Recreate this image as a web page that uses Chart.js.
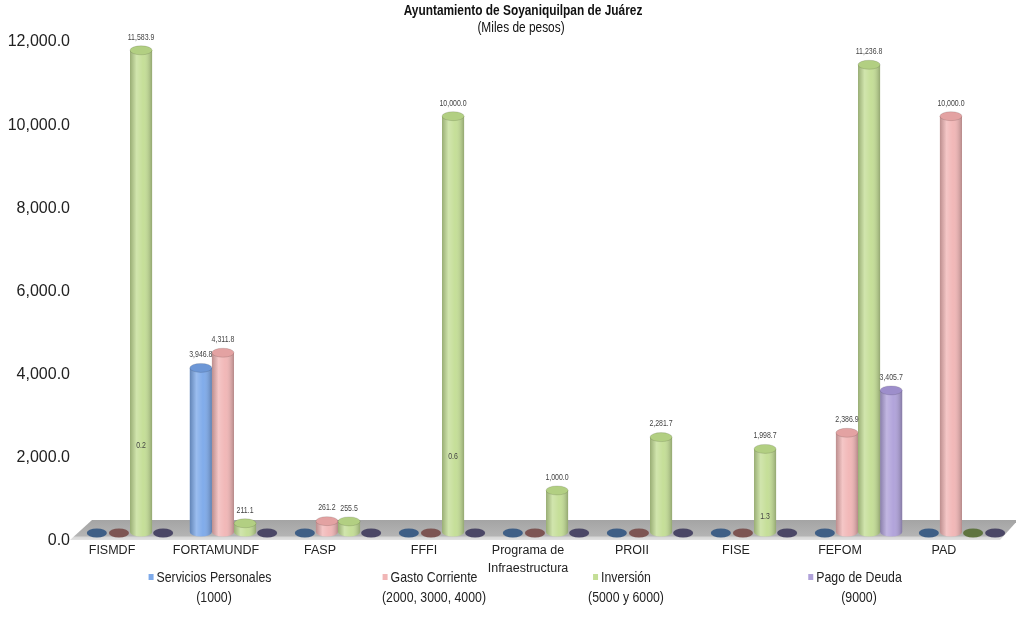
<!DOCTYPE html>
<html>
<head>
<meta charset="utf-8">
<script src="https://cdn.jsdelivr.net/npm/chart.js@4.4.0/dist/chart.umd.min.js"></script>
<style>
  html, body { margin: 0; padding: 0; background: #fff; }
  #wrap { width: 1016px; height: 627px; }
</style>
</head>
<body>
<div id="wrap"><canvas id="barCanvas"></canvas></div>
<script>
// ------DATA--------
const categorias = ['FISMDF', 'FORTAMUNDF', 'FASP', 'FFFI', ['Programa de', 'Infraestructura'], 'PROII', 'FISE', 'FEFOM', 'PAD'];
const serviciosPersonales = [0, 3946.8, 0, 0, 0, 0, 0, 0, 0];
const gastoCorriente = [0, 4311.8, 261.2, 0, 0, 0, 0, 2386.9, 10000.0];
const inversion = [11583.9, 211.1, 255.5, 10000.0, 1000.0, 2281.7, 1998.7, 11236.8, 0];
const pagoDeuda = [0, 0, 0, 0, 0, 0, 0, 3405.7, 0];
// small values whose labels sit inside the green bars
const valoresMenores = [0.2, 0, 0, 0.6, 0, 0, 1.3, 0, 0];
const ticksY = [0, 2000, 4000, 6000, 8000, 10000, 12000];
const serieNombres = [['Servicios Personales', '(1000)'], ['Gasto Corriente', '(2000, 3000, 4000)'], ['Inversión', '(5000 y 6000)'], ['Pago de Deuda', '(9000)']];

const FONT = "'Liberation Sans', Arial, sans-serif";
const colores = ['#7eaaea', '#f1b6b6', '#c4de96', '#b0a2da'];
const coloresCero = ['#3f5f86', '#7d5553', '#5f7440', '#4b4766'];
const coloresTapa = ['#6d97d6', '#e3a2a2', '#b2cf82', '#9d8ecb'];

function fmt(v) {
    return v.toLocaleString('en-US', { minimumFractionDigits: 1, maximumFractionDigits: 1 });
}

// squeeze text horizontally to look like Arial Narrow
function narrowText(ctx, text, x, y, s) {
    ctx.save();
    ctx.translate(x, y);
    ctx.scale(s || 0.82, 1);
    ctx.fillText(text, 0, 0);
    ctx.restore();
}

// gray 3D floor under the bars
const floorPlugin = {
    id: 'floor',
    beforeDatasetsDraw(chart) {
        const { ctx, chartArea } = chart;
        const b = chartArea.bottom;
        ctx.save();
        ctx.beginPath();
        ctx.moveTo(chartArea.left + 14, b - 12);
        ctx.lineTo(chartArea.right + 4, b - 12);
        ctx.lineTo(chartArea.right - 14, b + 8);
        ctx.lineTo(chartArea.left - 8, b + 8);
        ctx.closePath();
        const g = ctx.createLinearGradient(0, b - 12, 0, b + 8);
        g.addColorStop(0, '#a4a4a4');
        g.addColorStop(0.8, '#b4b4b4');
        g.addColorStop(0.85, '#d6d6d6');
        g.addColorStop(1, '#e2e2e2');
        ctx.fillStyle = g;
        ctx.fill();
        ctx.restore();
    }
};

// cylinder shading, caps, zero discs and value labels
const cylinderPlugin = {
    id: 'cylinders',
    afterDatasetsDraw(chart) {
        const ctx = chart.ctx;
        chart.data.datasets.forEach((ds, di) => {
            const meta = chart.getDatasetMeta(di);
            meta.data.forEach((el, i) => {
                const v = ds.data[i];
                const w = el.width;
                const rx = w / 2;
                ctx.save();
                if (v === 0) {
                    ctx.beginPath();
                    ctx.ellipse(el.x, el.base + 1, rx - 1, 4.5, 0, 0, Math.PI * 2);
                    ctx.fillStyle = coloresCero[di];
                    ctx.fill();
                    ctx.restore();
                    return;
                }
                // bottom rounding
                ctx.beginPath();
                ctx.ellipse(el.x, el.base, rx, 4.5, 0, 0, Math.PI);
                ctx.fillStyle = colores[di];
                ctx.fill();
                // side shading
                const g = ctx.createLinearGradient(el.x - rx, 0, el.x + rx, 0);
                g.addColorStop(0, 'rgba(0,0,0,0.22)');
                g.addColorStop(0.3, 'rgba(255,255,255,0.22)');
                g.addColorStop(0.6, 'rgba(255,255,255,0.02)');
                g.addColorStop(1, 'rgba(0,0,0,0.25)');
                ctx.fillStyle = g;
                ctx.fillRect(el.x - rx, el.y, w, el.base - el.y);
                ctx.beginPath();
                ctx.ellipse(el.x, el.base, rx, 4.5, 0, 0, Math.PI);
                ctx.fill();
                // top cap
                ctx.beginPath();
                ctx.ellipse(el.x, el.y, rx, 4.5, 0, 0, Math.PI * 2);
                ctx.fillStyle = coloresTapa[di];
                ctx.fill();
                ctx.strokeStyle = 'rgba(0,0,0,0.15)';
                ctx.lineWidth = 0.8;
                ctx.stroke();
                // value label
                ctx.fillStyle = '#444';
                ctx.font = '8.5px ' + FONT;
                ctx.textAlign = 'center';
                ctx.textBaseline = 'middle';
                narrowText(ctx, fmt(v), el.x, el.y - 13);
                ctx.restore();
            });
        });
        // labels of the tiny values, inside the green bars
        const metaInv = chart.getDatasetMeta(2);
        valoresMenores.forEach((v, i) => {
            if (!v) return;
            const el = metaInv.data[i];
            ctx.save();
            ctx.fillStyle = '#444';
            ctx.font = '8.5px ' + FONT;
            ctx.textAlign = 'center';
            ctx.textBaseline = 'middle';
            narrowText(ctx, fmt(v), el.x, el.base - (el.base - el.y) * 0.18);
            ctx.restore();
        });
    }
};

// title and two-line legend
const textPlugin = {
    id: 'texts',
    afterDraw(chart) {
        const ctx = chart.ctx;
        ctx.save();
        ctx.fillStyle = '#111';
        ctx.textAlign = 'center';
        ctx.textBaseline = 'middle';
        ctx.font = 'bold 14.5px ' + FONT;
        narrowText(ctx, 'Ayuntamiento de Soyaniquilpan de Juárez', 523, 11);
        ctx.font = '14.5px ' + FONT;
        narrowText(ctx, '(Miles de pesos)', 521, 28);

        const centros = [210, 430, 622, 855];
        ctx.font = '15px ' + FONT;
        serieNombres.forEach((n, i) => {
            const tw = ctx.measureText(n[0]).width * 0.82;
            const x0 = centros[i] - (tw + 8) / 2;
            ctx.fillStyle = colores[i];
            ctx.fillRect(x0, 574, 5, 6);
            ctx.fillStyle = '#222';
            ctx.textAlign = 'left';
            narrowText(ctx, n[0], x0 + 8, 578);
            ctx.textAlign = 'center';
            narrowText(ctx, n[1], centros[i] + 4, 598);
        });
        ctx.restore();
    }
};

const barCanvas = document.getElementById('barCanvas');

const barChart = new Chart(barCanvas, {
    type: 'bar',
    data: {
        labels: categorias,
        datasets: [
            { label: serieNombres[0].join(' '), data: serviciosPersonales, backgroundColor: colores[0] },
            { label: serieNombres[1].join(' '), data: gastoCorriente, backgroundColor: colores[1] },
            { label: serieNombres[2].join(' '), data: inversion, backgroundColor: colores[2] },
            { label: serieNombres[3].join(' '), data: pagoDeuda, backgroundColor: colores[3] }
        ]
    },
    options: {
        responsive: true,
        maintainAspectRatio: false,
        devicePixelRatio: 1,
        animation: false,
        categoryPercentage: 0.85,
        barPercentage: 1.0,
        layout: { padding: { top: 33, right: 2, left: 0, bottom: 0 } },
        plugins: {
            legend: { display: false },
            tooltip: { enabled: false },
            title: { display: false }
        },
        scales: {
            x: {
                grid: { display: false },
                border: { display: false },
                ticks: {
                    color: '#222',
                    font: { family: FONT, size: 12.5, lineHeight: 1.45 },
                    labelOffset: -18,
                    padding: 1,
                    maxRotation: 0,
                    autoSkip: false
                },
                afterFit(axis) { axis.height = 95; }
            },
            y: {
                min: 0,
                max: 12000,
                grid: { display: false },
                border: { display: false },
                afterBuildTicks(axis) { axis.ticks = ticksY.map(v => ({ value: v })); },
                ticks: {
                    color: '#222',
                    font: { family: FONT, size: 16 },
                    padding: 0,
                    labelOffset: 9,
                    callback: (v) => fmt(v)
                },
                afterFit(axis) { axis.width = 78; }
            }
        }
    },
    plugins: [floorPlugin, cylinderPlugin, textPlugin]
});
</script>
</body>
</html>
